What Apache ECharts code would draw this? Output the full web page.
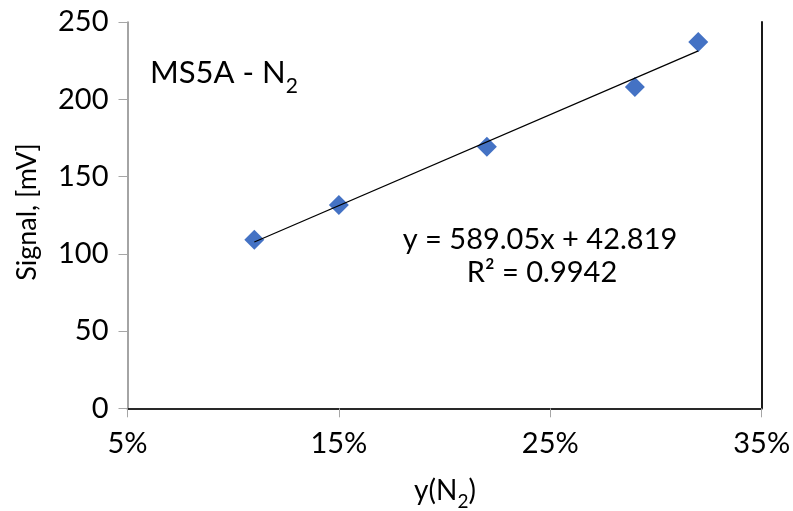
<!DOCTYPE html>
<html>
<head>
<meta charset="utf-8">
<script src="https://cdn.jsdelivr.net/npm/echarts@6/dist/echarts.min.js"></script>
<style>html,body{margin:0;padding:0;background:#fff}#c{width:793px;height:511px}</style>
</head>
<body>
<div id="c"></div>
<script>
// Data (x in percent, y in mV)
const xValues = [11, 15, 22, 29, 32];
const yValues = [109, 131.5, 169.2, 208, 237];
const xTicks = [5, 15, 25, 35];
const yTicks = [0, 50, 100, 150, 200, 250];
// Trendline coefficients as printed on the chart (x as fraction)
const slope = 589.05;
const intercept = 42.819;
const r2 = '0.9942';

const F = 'Lato';
const points = xValues.map((x, i) => [x, yValues[i]]);
const xMin = Math.min(...xValues), xMax = Math.max(...xValues);
const trend = [[xMin, slope * xMin / 100 + intercept], [xMax, slope * xMax / 100 + intercept]];

const chart = echarts.init(document.getElementById('c'), null, {renderer: 'canvas'});
chart.setOption({
  animation: false,
  backgroundColor: '#fff',
  textStyle: {fontFamily: F},
  grid: {left: 127.5, right: 31.3, top: 22, bottom: 102.7, containLabel: false, outerBoundsMode: 'none'},
  xAxis: [{
    type: 'value', min: xTicks[0], max: xTicks[xTicks.length - 1], interval: 10,
    axisLine: {lineStyle: {color: '#868686', width: 1.5}},
    axisTick: {show: true, inside: false, length: 9, lineStyle: {color: '#a6a6a6', width: 1}},
    axisLabel: {formatter: '{value}%', fontFamily: F, fontSize: 29, color: '#000', margin: 21},
    splitLine: {show: false}
  }, {
    type: 'value', position: 'top', min: xTicks[0], max: xTicks[xTicks.length - 1],
    axisLine: {show: true, lineStyle: {color: '#000', width: 1.5}},
    axisTick: {show: false}, axisLabel: {show: false}, splitLine: {show: false}
  }],
  yAxis: [{
    type: 'value', min: yTicks[0], max: yTicks[yTicks.length - 1], interval: 50,
    axisLine: {show: true, lineStyle: {color: '#868686', width: 1.5}},
    axisTick: {show: true, inside: false, length: 9, lineStyle: {color: '#a6a6a6', width: 1}},
    axisLabel: {fontFamily: F, fontSize: 29, color: '#000', margin: 19},
    splitLine: {show: false}
  }, {
    type: 'value', position: 'right', min: yTicks[0], max: yTicks[yTicks.length - 1],
    axisLine: {show: true, lineStyle: {color: '#000', width: 1.8}},
    axisTick: {show: false}, axisLabel: {show: false}, splitLine: {show: false}
  }],
  series: [{
    type: 'line', data: trend, symbol: 'none', silent: true,
    lineStyle: {color: '#000', width: 1.3}, z: 3
  }, {
    type: 'scatter', data: points, symbol: 'diamond', symbolSize: 20,
    itemStyle: {color: '#4472C4', opacity: 1}, z: 2
  }],
  graphic: [{
    type: 'text', x: 150, y: 70,
    style: {
      text: '{a|MS5A - N}{b|2}',
      align: 'left', verticalAlign: 'middle',
      rich: {
        a: {fontFamily: F, fontSize: 31, fontWeight: 'normal', fill: '#000', lineHeight: 36, verticalAlign: 'bottom'},
        b: {fontFamily: F, fontSize: 21, fontWeight: 'normal', fill: '#000', lineHeight: 36, verticalAlign: 'bottom', padding: [0, 0, -9, 0]}
      }
    }
  }, {
    type: 'text', x: 540, y: 240,
    style: {
      text: 'y = ' + slope.toFixed(2) + 'x + ' + intercept,
      fontFamily: F, fontSize: 29, fill: '#000', align: 'center', verticalAlign: 'middle'
    }
  }, {
    type: 'text', x: 542, y: 273,
    style: {
      text: 'R² = ' + r2,
      fontFamily: F, fontSize: 29, fill: '#000', align: 'center', verticalAlign: 'middle'
    }
  }, {
    type: 'text', x: 27, y: 212, rotation: Math.PI / 2,
    style: {
      text: 'Signal, [mV]',
      fontFamily: F, fontSize: 27, fill: '#000', align: 'center', verticalAlign: 'middle'
    }
  }, {
    type: 'text', x: 445, y: 489,
    style: {
      text: '{a|y(N}{b|2}{a|)}',
      align: 'center', verticalAlign: 'middle',
      rich: {
        a: {fontFamily: F, fontSize: 28, fill: '#000', lineHeight: 32, verticalAlign: 'bottom'},
        b: {fontFamily: F, fontSize: 19, fill: '#000', lineHeight: 32, verticalAlign: 'bottom', padding: [0, 0, -6, 0]}
      }
    }
  }]
});
</script>
</body>
</html>
